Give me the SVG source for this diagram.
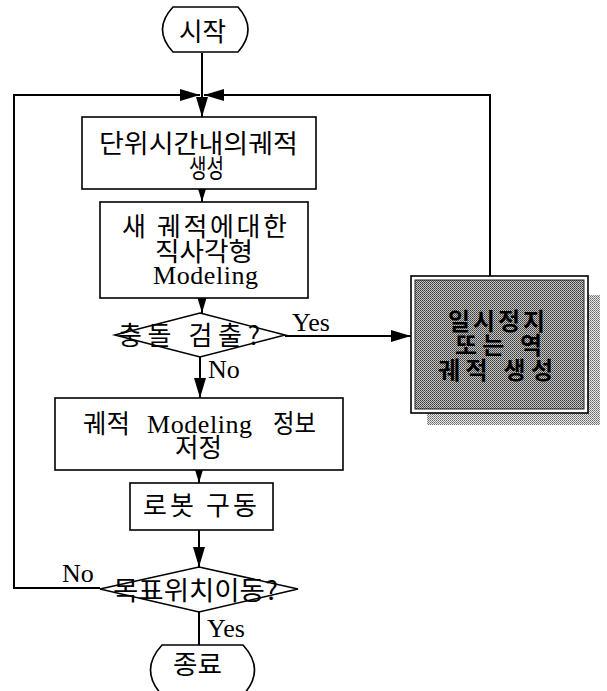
<svg xmlns="http://www.w3.org/2000/svg" width="607" height="691" viewBox="0 0 607 691">
<style>
.box{fill:#fff;stroke:#000;stroke-width:1.6}
.ln{fill:none;stroke:#000;stroke-width:2}
.ko{font-family:"Noto Sans CJK KR","Noto Sans",sans-serif;font-size:26px;fill:#000}
.la{font-family:"Liberation Serif","Times New Roman",serif;font-size:26px;fill:#000}
.kb{font-family:"Noto Sans CJK KR","Noto Sans",sans-serif;font-size:24px;font-weight:bold;fill:#000}
</style>
<defs>
<marker id="ah" viewBox="0 0 20 12" refX="20" refY="6" markerWidth="20" markerHeight="12" markerUnits="userSpaceOnUse" orient="auto">
<path d="M0,0 L20,6 L0,12 Z" fill="#000"/>
</marker>
<pattern id="dark" width="2" height="2" patternUnits="userSpaceOnUse">
<rect width="2" height="2" fill="#c4c4c4"/>
<rect width="1" height="1" fill="#3a3a3a"/>
<rect x="1" y="1" width="1" height="1" fill="#5a5a5a"/>
</pattern>
<pattern id="light" width="2" height="2" patternUnits="userSpaceOnUse">
<rect width="2" height="2" fill="#e6e6e6"/>
<rect width="1" height="1" fill="#6a6a6a"/>
<rect x="1" y="1" width="1" height="1" fill="#8a8a8a"/>
</pattern>
</defs>
<rect width="607" height="691" fill="#fff"/>

<g id="connectors">
<line class="ln" x1="202" y1="53" x2="202" y2="95"/>
<line class="ln" x1="202" y1="95" x2="202" y2="117" marker-end="url(#ah)"/>
<polyline class="ln" points="100,588 14,588 14,95 200,95" marker-end="url(#ah)"/>
<polyline class="ln" points="490,276 490,95 204,95" marker-end="url(#ah)"/>
<line class="ln" x1="202" y1="189" x2="202" y2="202" marker-end="url(#ah)"/>
<line class="ln" x1="202" y1="298" x2="202" y2="313" marker-end="url(#ah)"/>
<line class="ln" x1="285" y1="336" x2="411" y2="336" marker-end="url(#ah)"/>
<line class="ln" x1="200" y1="357" x2="200" y2="398" marker-end="url(#ah)"/>
<line class="ln" x1="199" y1="470" x2="199" y2="483" marker-end="url(#ah)"/>
<line class="ln" x1="199" y1="530" x2="199" y2="567" marker-end="url(#ah)"/>
<line class="ln" x1="199" y1="612" x2="199" y2="645"/>
<text class="la" x="292" y="331" font-size="25">Yes</text>
<text class="la" x="208" y="378" font-size="25">No</text>
<text class="la" x="62" y="582" font-size="25">No</text>
<text class="la" x="207" y="637" font-size="25">Yes</text>
</g>

<g id="start">
<path class="box" d="M173,7 L238,7 Q258,29.5 238,52 L173,52 Q152,29.5 173,7 Z"/>
<text class="ko" x="179" y="41" textLength="47" lengthAdjust="spacingAndGlyphs">시작</text>
</g>

<g id="gen">
<rect class="box" x="82" y="117" width="234" height="72"/>
<text class="ko" x="99" y="153" font-size="28" textLength="199" lengthAdjust="spacingAndGlyphs">단위시간내의궤적</text>
<text class="ko" x="189" y="178" font-size="26" textLength="35" lengthAdjust="spacingAndGlyphs">생성</text>
</g>

<g id="model">
<rect class="box" x="100" y="202" width="208" height="96"/>
<text class="ko" x="122" y="236" font-size="23" textLength="165">새 궤적에대한</text>
<text class="ko" x="155" y="261" textLength="98" lengthAdjust="spacingAndGlyphs">직사각형</text>
<text class="la" x="153" y="284" textLength="105">Modeling</text>
</g>

<g id="collision">
<path class="box" d="M200,313 L285,335 L200,357 L115,335 Z"/>
<text class="ko" x="118" y="345" font-size="27" textLength="142">충돌 검출?</text>
</g>

<g id="avoid">
<rect x="427" y="295" width="173" height="130" fill="url(#light)"/>
<rect x="411" y="276" width="177" height="137" fill="#fff" stroke="#000" stroke-width="1.6"/>
<rect x="415" y="280" width="169" height="129" fill="url(#dark)" stroke="#222" stroke-width="1"/>
<text class="kb" x="448" y="330" textLength="97">일시정지</text>
<text class="kb" x="455" y="354" textLength="87">또는 역</text>
<text class="kb" x="438" y="379" textLength="115">궤적 생성</text>
</g>

<g id="save">
<rect class="box" x="55" y="398" width="288" height="72"/>
<text class="ko" x="83" y="433" font-size="27" textLength="47" lengthAdjust="spacingAndGlyphs">궤적</text>
<text class="la" x="147" y="433" textLength="105">Modeling</text>
<text class="ko" x="273" y="433" font-size="27" textLength="43" lengthAdjust="spacingAndGlyphs">정보</text>
<text class="ko" x="175" y="457" font-size="25" textLength="47" lengthAdjust="spacingAndGlyphs">저정</text>
</g>

<g id="drive">
<rect class="box" x="130" y="483" width="143" height="47"/>
<text class="ko" x="143" y="515" font-size="25" textLength="114">로봇 구동</text>
</g>

<g id="goal">
<path class="box" d="M199,567 L298,589 L199,612 L100,589 Z"/>
<text class="ko" x="113" y="600" textLength="165" lengthAdjust="spacingAndGlyphs">목표위치이동?</text>
</g>

<g id="end">
<path class="box" d="M162,645 L243,645 Q266,670 243,695 L162,695 Q139,670 162,645 Z"/>
<text class="ko" x="173" y="674" font-size="22" textLength="49" lengthAdjust="spacingAndGlyphs">종료</text>
</g>
</svg>
